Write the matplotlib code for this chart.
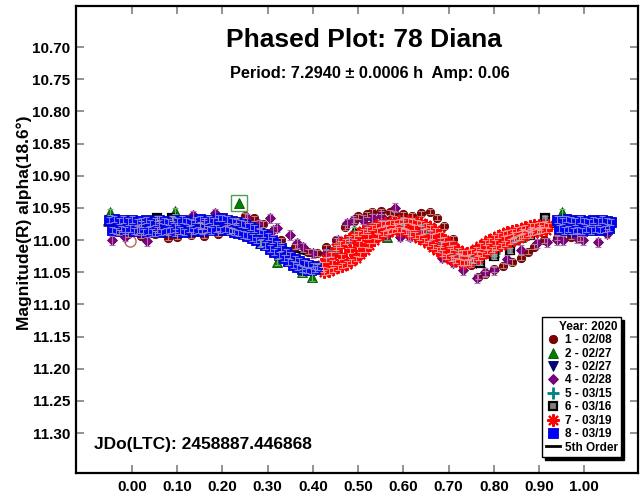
import numpy as np
import matplotlib
matplotlib.use('Agg')
import matplotlib.pyplot as plt
from matplotlib.lines import Line2D

plt.rcParams['font.family'] = ['Liberation Sans', 'DejaVu Sans']
plt.rcParams['font.weight'] = 'bold'

# ---- datos (fase, magnitud) ----

# 1 - 02/08
p1 = [-0.03, -0.01, 0.02, 0.05, 0.08, 0.10, 0.13, 0.16, 0.19, 0.23, 0.25, 0.27, 0.29, 0.33,
      0.36, 0.39, 0.41, 0.43, 0.45, 0.47, 0.49, 0.50, 0.52, 0.53, 0.55, 0.57, 0.58, 0.60,
      0.62, 0.64, 0.66, 0.675, 0.69, 0.71, 0.73, 0.75, 0.765, 0.78, 0.80, 0.82, 0.84, 0.86,
      0.875, 0.89, 0.91, 0.94, 0.97, 0.99]
m1 = [10.988, 10.991, 10.993, 10.990, 10.996, 10.995, 10.992, 10.993, 10.990, 10.970, 10.962,
      10.966, 10.975, 11.000, 11.010, 11.018, 11.020, 11.011, 11.000, 10.980, 10.970, 10.963,
      10.960, 10.956, 10.955, 10.957, 10.958, 10.960, 10.962, 10.958, 10.956, 10.965, 10.978,
      10.998, 11.020, 11.038, 11.057, 11.052, 11.045, 11.040, 11.034, 11.027, 11.018, 11.010,
      11.000, 10.996, 10.995, 10.997]

# 2 - 02/27
p2 = [-0.049, 0.095, 0.283, 0.32, 0.376, 0.398, 0.409, 0.49, 0.564, 0.64, 0.72, 0.80, 0.86, 0.951]
m2 = [10.956, 10.955, 11.005, 11.034, 11.050, 11.058, 11.042, 10.985, 10.995, 10.980, 11.022,
      11.018, 10.995, 10.957]
p2_excl = [0.237]
m2_excl = [10.943]

# 3 - 02/27
p3 = [0.44, 0.48, 0.52, 0.56, 0.60, 0.64, 0.68, 0.72, 0.76, 0.80, 0.84, 0.88]
m3 = [11.020, 11.000, 10.980, 10.972, 10.970, 10.980, 11.000, 11.025, 11.035, 11.020, 11.000, 10.985]

# 4 - 02/28
p4 = [-0.044, -0.015, 0.01, 0.033, 0.06, 0.095, 0.135, 0.16, 0.184, 0.21, 0.254, 0.28, 0.305,
      0.312, 0.32, 0.35, 0.365, 0.378, 0.40, 0.43, 0.455, 0.475, 0.489, 0.51, 0.53, 0.55,
      0.564, 0.582, 0.593, 0.61, 0.615, 0.64, 0.66, 0.686, 0.71, 0.733, 0.763, 0.78, 0.80,
      0.83, 0.86, 0.896, 0.918, 0.94, 0.954, 0.985, 0.998, 1.031, 1.05]
m4 = [11.000, 10.995, 10.985, 11.002, 10.975, 10.980, 10.961, 10.975, 10.958, 10.970, 10.966,
      10.975, 10.966, 10.985, 10.981, 10.992, 11.005, 11.011, 11.020, 11.020, 11.000, 10.974,
      10.969, 10.968, 10.966, 10.962, 10.992, 10.950, 10.995, 10.992, 10.995, 10.985, 10.993,
      11.027, 11.035, 11.047, 11.059, 11.050, 11.047, 11.030, 11.015, 11.005, 11.003, 11.000,
      11.000, 10.997, 11.000, 11.003, 10.990]

# 5 - 03/15
p5 = [0.45, 0.50, 0.55, 0.60, 0.65, 0.70, 0.75, 0.80, 0.85, 0.90]
m5 = [11.015, 10.990, 10.975, 10.972, 10.985, 11.005, 11.030, 11.020, 10.998, 10.985]

# 6 - 03/16
p6 = [0.02, 0.055, 0.088, 0.15, 0.22, 0.50, 0.60, 0.68, 0.71, 0.741, 0.77, 0.80, 0.836, 0.88, 0.914]
m6 = [10.975, 10.966, 10.966, 10.978, 10.985, 10.990, 10.978, 11.012, 11.027, 11.034, 11.035,
      11.025, 11.016, 10.992, 10.966]

# 7 - 03/19
p7 = [0.42, 0.43, 0.44, 0.45, 0.46, 0.47, 0.48, 0.49, 0.50, 0.51, 0.52, 0.53, 0.54, 0.55, 0.56,
      0.57, 0.58, 0.59, 0.60, 0.61, 0.62, 0.63, 0.64, 0.65, 0.66, 0.67, 0.68, 0.69, 0.70, 0.71,
      0.72, 0.73, 0.74, 0.75, 0.76, 0.77, 0.78, 0.79, 0.80, 0.81, 0.82, 0.83, 0.84, 0.85, 0.86,
      0.87, 0.88, 0.89, 0.90, 0.91, 0.92,
      0.425, 0.435, 0.445, 0.455, 0.465, 0.475, 0.485, 0.495, 0.505, 0.515, 0.525, 0.535, 0.545,
      0.555, 0.565, 0.575, 0.585, 0.595, 0.605, 0.615, 0.625, 0.635, 0.645, 0.655, 0.665, 0.675,
      0.685, 0.695, 0.705, 0.715, 0.725, 0.735, 0.745, 0.755, 0.765, 0.775, 0.785, 0.795, 0.805,
      0.815, 0.825, 0.835, 0.845, 0.855, 0.865, 0.875, 0.885, 0.895, 0.905, 0.915,
      0.4225, 0.4425, 0.4625, 0.4825, 0.5025, 0.5225, 0.5425, 0.5625, 0.5825, 0.6025, 0.6225,
      0.6425, 0.6625, 0.6825, 0.7025, 0.7225, 0.7425, 0.7625, 0.7825, 0.8025, 0.8225, 0.8425,
      0.8625, 0.8825, 0.9025]
m7 = [11.038, 11.030, 11.022, 11.012, 11.006, 11.002, 10.998, 10.994, 10.990, 10.986, 10.983,
      10.980, 10.977, 10.975, 10.974, 10.973, 10.972, 10.971, 10.970, 10.970, 10.971, 10.972,
      10.974, 10.977, 10.980, 10.985, 10.992, 10.999, 11.005, 11.011, 11.016, 11.019, 11.020,
      11.018, 11.014, 11.009, 11.004, 11.000, 10.996, 10.993, 10.990, 10.988, 10.986, 10.984,
      10.982, 10.980, 10.978, 10.977, 10.976, 10.976, 10.977,
      11.050, 11.048, 11.045, 11.042, 11.040, 11.037, 11.033, 11.028, 11.022, 11.015, 11.008,
      11.000, 10.994, 10.990, 10.987, 10.985, 10.984, 10.984, 10.986, 10.989, 10.992, 10.996,
      11.000, 11.005, 11.010, 11.015, 11.020, 11.025, 11.029, 11.032, 11.034, 11.035, 11.034,
      11.031, 11.027, 11.022, 11.018, 11.014, 11.011, 11.008, 11.005, 11.002, 10.999, 10.996,
      10.993, 10.990, 10.988, 10.986, 10.985, 10.984,
      11.045, 11.035, 11.025, 11.016, 11.006, 10.995, 10.985, 10.980, 10.978, 10.977, 10.980,
      10.986, 10.995, 11.006, 11.016, 11.025, 11.027, 11.021, 11.011, 11.004, 10.998, 10.992,
      10.987, 10.983, 10.980]
p7_excl = [-0.004]
m7_excl = [11.002]

# 8 - 03/19
p8 = [-0.05, -0.04, -0.03, -0.02, -0.01, 0.00, 0.01, 0.02, 0.03, 0.04, 0.05, 0.06, 0.07, 0.08,
      0.09, 0.10, 0.11, 0.12, 0.13, 0.14, 0.15, 0.16, 0.17, 0.18, 0.19, 0.20, 0.21, 0.22, 0.23,
      0.24, 0.25, 0.26, 0.27, 0.28, 0.29, 0.30, 0.31, 0.32, 0.33, 0.34, 0.35, 0.36, 0.37, 0.38,
      0.39, 0.40, 0.41,
      -0.045, -0.035, -0.025, -0.015, -0.005, 0.005, 0.015, 0.025, 0.035, 0.045, 0.055, 0.065,
      0.075, 0.085, 0.095, 0.105, 0.115, 0.125, 0.135, 0.145, 0.155, 0.165, 0.175, 0.185, 0.195,
      0.205, 0.215, 0.225, 0.235, 0.245, 0.255, 0.265, 0.275, 0.285, 0.295, 0.305, 0.315, 0.325,
      0.335, 0.345, 0.355, 0.365, 0.375, 0.385, 0.395, 0.405,
      0.94, 0.95, 0.96, 0.97, 0.98, 0.99, 1.00, 1.01, 1.02, 1.03, 1.04, 1.05, 1.06,
      0.945, 0.955, 0.965, 0.975, 0.985, 0.995, 1.005, 1.015, 1.025, 1.035, 1.045, 1.055]
m8 = [10.969, 10.967, 10.970, 10.968, 10.971, 10.968, 10.972, 10.970, 10.969, 10.973, 10.971,
      10.968, 10.970, 10.972, 10.969, 10.971, 10.968, 10.970, 10.972, 10.969, 10.967, 10.970,
      10.968, 10.971, 10.966, 10.966, 10.968, 10.970, 10.972, 10.974, 10.976, 10.979, 10.982,
      10.986, 10.990, 10.994, 11.000, 11.006, 11.012, 11.018, 11.024, 11.029, 11.033, 11.036,
      11.038, 11.040, 11.041,
      10.984, 10.986, 10.983, 10.985, 10.982, 10.986, 10.984, 10.987, 10.985, 10.988, 10.984,
      10.987, 10.986, 10.984, 10.988, 10.985, 10.987, 10.983, 10.986, 10.984, 10.986, 10.983,
      10.985, 10.982, 10.984, 10.983, 10.985, 10.987, 10.989, 10.991, 10.993, 10.996, 11.000,
      11.004, 11.008, 11.013, 11.018, 11.023, 11.028, 11.033, 11.038, 11.042, 11.045, 11.046,
      11.047, 11.045,
      10.968, 10.970, 10.967, 10.969, 10.971, 10.968, 10.970, 10.972, 10.969, 10.971, 10.968,
      10.970, 10.972,
      10.982, 10.985, 10.983, 10.986, 10.984, 10.986, 10.983, 10.985, 10.982, 10.984, 10.983,
      10.981]

# curva de 5to orden
pfit = [-0.06, 0.0, 0.05, 0.10, 0.15, 0.20, 0.25, 0.30, 0.35, 0.40, 0.45, 0.50, 0.55, 0.60,
        0.65, 0.70, 0.75, 0.80, 0.85, 0.90, 0.95, 1.00, 1.06]
mfit = [10.977, 10.977, 10.978, 10.979, 10.978, 10.979, 10.985, 10.998, 11.015, 11.025, 11.015,
        10.992, 10.975, 10.970, 10.980, 11.005, 11.028, 11.022, 10.998, 10.982, 10.977, 10.977,
        10.977]

etiquetas = ['1 - 02/08', '2 - 02/27', '3 - 02/27', '4 - 02/28', '5 - 03/15', '6 - 03/16',
             '7 - 03/19', '8 - 03/19']
errores = [0.004, 0.005, 0.004, 0.007, 0.004, 0.004, 0.004, 0.005]

asterisco = (8, 2, 0)
estilos = [
    dict(marker='o', mfc='#800000', mec='#600000', ms=6, mew=0.6),
    dict(marker='^', mfc='#008000', mec='#005000', ms=7, mew=0.6),
    dict(marker='v', mfc='#000080', mec='#000050', ms=7, mew=0.6),
    dict(marker='D', mfc='#800080', mec='#600060', ms=5, mew=0.6),
    dict(marker='+', mfc='#008080', mec='#008080', ms=8, mew=2),
    dict(marker='s', mfc='#808080', mec='#000000', ms=6, mew=1.6),
    dict(marker=asterisco, mfc='#ff0000', mec='#ff0000', ms=9, mew=1.5),
    dict(marker='s', mfc='#0000ff', mec='#0000c0', ms=6.5, mew=0.6),
]
colores_err = ['#c08080', '#70b070', '#7070c0', '#b070b0', '#60b0b0', '#a0a0a0', '#ff9090',
               '#8080e0']

series = [(p1, m1), (p2, m2), (p3, m3), (p4, m4), (p5, m5), (p6, m6), (p7, m7), (p8, m8)]

fig = plt.figure(figsize=(6.4, 4.95), dpi=100)
ax = fig.add_axes([76 / 640, 1 - 473 / 495, 562 / 640, 467 / 495])

ax.plot(pfit, mfit, color='black', lw=2, zorder=1)

for i, (p, m) in enumerate(series):
    ax.plot(p, m, ls='none', zorder=3 + i, **estilos[i])
    ax.errorbar(p, m, yerr=errores[i], fmt='none', ecolor=colores_err[i], elinewidth=0.8,
                capsize=2, capthick=0.8, zorder=12)

# puntos excluidos
ax.plot(p2_excl, m2_excl, ls='none', zorder=4, **estilos[1])
ax.plot(p2_excl, m2_excl, ls='none', marker='s', ms=11, mfc='none', mec='#50a050', mew=1, zorder=4)
ax.plot(p7_excl, m7_excl, ls='none', marker='o', ms=8, mfc='none', mec='#c06060', mew=1, zorder=2)

ax.set_xlim(-0.124, 1.119)
ax.set_ylim(11.362, 10.636)
ax.set_xticks(np.arange(0, 1.01, 0.1))
ax.set_yticks(np.arange(10.70, 11.301, 0.05))
ax.xaxis.set_major_formatter(plt.FormatStrFormatter('%.2f'))
ax.yaxis.set_major_formatter(plt.FormatStrFormatter('%.2f'))
ax.tick_params(direction='in', length=6, width=1.2, color='#808080', labelsize=11,
               top=True, right=True)
ax.tick_params(axis='y', pad=4)
ax.tick_params(axis='x', pad=5)
for s in ax.spines.values():
    s.set_linewidth(1.6)

ax.set_ylabel('Magnitude(R) alpha(18.6°)', fontsize=12.5, fontweight='bold')
ax.yaxis.set_label_coords(-0.078, 0.535)

fig.text(364 / 640, 1 - 40 / 495, 'Phased Plot: 78 Diana', ha='center', va='center',
         fontsize=19, fontweight='bold')
fig.text(370 / 640, 1 - 73 / 495, 'Period: 7.2940 ± 0.0006 h  Amp: 0.06', ha='center',
         va='center', fontsize=11.8, fontweight='bold')
fig.text(94 / 640, 1 - 444 / 495, 'JDo(LTC): 2458887.446868', ha='left', va='center',
         fontsize=12.5, fontweight='bold')

manijas = []
for i in range(8):
    manijas.append(Line2D([], [], ls='none', **estilos[i]))
manijas.append(Line2D([], [], color='black', lw=2))
leg = ax.legend(manijas, etiquetas + ['5th Order'], title='Year: 2020', loc='lower right',
                bbox_to_anchor=(0.97, 0.034), borderaxespad=0, fontsize=8.5,
                title_fontproperties={'weight': 'bold', 'size': 8.5}, frameon=True,
                fancybox=False, shadow={'color': 'black', 'alpha': 1}, handlelength=1.2,
                handletextpad=0.4, labelspacing=0.12, borderpad=0.3, alignment='right')
leg.get_frame().set_edgecolor('black')
leg.get_frame().set_linewidth(1)
leg.set_zorder(20)

plt.savefig('out.png', dpi=100)
